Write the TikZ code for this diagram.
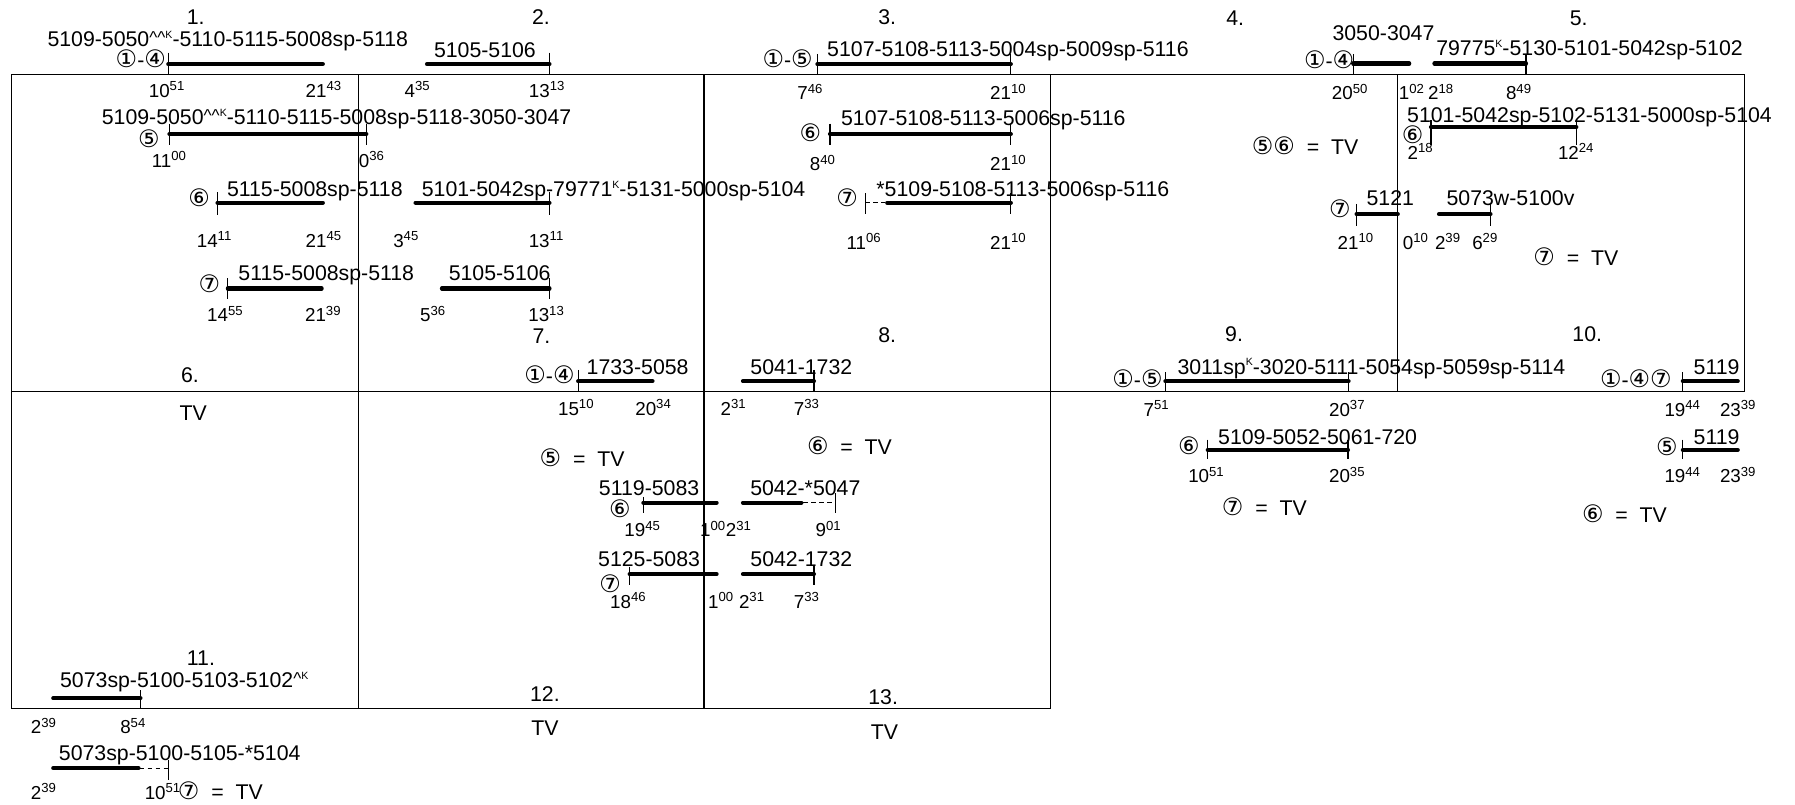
\documentclass[tikz,border=0pt]{standalone}
\usepackage{fontspec}
\setmainfont{Liberation Sans}
\newfontfamily\ringfont{DejaVu Sans}
\usepackage{tikz}
\newcommand{\rg}[1]{{\ringfont\fontsize{10.5}{12}\selectfont #1}}
\newcommand{\crt}{\raisebox{1.2pt}{\fontsize{7.5}{8}\selectfont\textasciicircum}}
\newcommand{\kup}{\raisebox{3.5pt}{\fontsize{4.6}{5}\selectfont K}}

\begin{document}
\begin{tikzpicture}[x=0.5pt, y=-0.5pt,
    box/.style={line width=0.5pt},
    bar/.style={line width=1.8pt, line cap=round},
    tck/.style={line width=0.5pt},
    dsh/.style={line width=0.5pt, dash pattern=on 2pt off 1.5pt},
    lbl/.style={font=\fontsize{9.3}{11}\selectfont, inner sep=0pt, text height=6.7pt, text depth=0pt},
    hrs/.style={font=\fontsize{8.2}{10}\selectfont, inner sep=0pt, text height=5.9pt, text depth=0pt}]
    \useasboundingbox (0,0) rectangle (1568,703);

    % frame of the sections
    \draw[box] (10,65) rectangle (1524,342);
    \draw[box] (10,342) rectangle (918,619);
    \draw[box] (313,65) -- (313,619);
    \draw[box] (615,65) -- (615,619);
    \draw[box] (918,65) -- (918,342);
    \draw[box] (1221,65) -- (1221,342);

    % section numbers
    \node[lbl] (c1) at (171,15) {1.};
    \node[lbl] (c2) at (472.5,15) {2.};
    \node[lbl] (c3) at (775,15) {3.};
    \node[lbl] (c4) at (1079,16) {4.};
    \node[lbl] (c5) at (1379,16) {5.};
    \node[lbl] (c6) at (166,327) {6.};
    \node[lbl] (c7) at (473,293.5) {7.};
    \node[lbl] (c8) at (775,292.6) {8.};
    \node[lbl] (c9) at (1078,292) {9.};
    \node[lbl] (c10) at (1386.5,292) {10.};
    \node[lbl] (c11) at (175.5,575) {11.};
    \node[lbl] (c12) at (476,606) {12.};
    \node[lbl] (c13) at (771.5,608.6) {13.};
    \node[lbl] (tv6) at (168.8,361) {TV};
    \node[lbl] (tv12) at (476,636) {TV};
    \node[lbl] (tv13) at (772.7,639) {TV};

    % sections 1 and 2
    \draw[bar] (147,56) -- (282,56);
    \draw[tck] (147,46) -- (147,65);
    \node[lbl] (r1a) at (123,52.5) {\rg{①}-\rg{④}};
    \node[lbl] (l1a) at (199,33.5) {5109-5050\crt\crt\kup-5110-5115-5008sp-5118};
    \node[hrs] (h1a) at (146,79) {10\textsuperscript{51}};
    \node[hrs] (h1b) at (283,79) {21\textsuperscript{43}};

    \draw[bar] (373,56) -- (480,56);
    \draw[tck] (480,46) -- (480,65);
    \node[lbl] (l2a) at (423.6,43.7) {5105-5106};
    \node[hrs] (h2a) at (365,79) {4\textsuperscript{35}};
    \node[hrs] (h2b) at (478,79) {13\textsuperscript{13}};

    \draw[bar] (148,117) -- (320,117);
    \draw[tck] (148,108) -- (148,127);
    \draw[tck] (320,108) -- (320,127);
    \node[lbl] (r1b) at (130,122) {\rg{⑤}};
    \node[lbl] (l1b) at (294,102) {5109-5050\crt\crt\kup-5110-5115-5008sp-5118-3050-3047};
    \node[hrs] (h1c) at (148,140) {11\textsuperscript{00}};
    \node[hrs] (h1d) at (325,140) {0\textsuperscript{36}};

    \draw[bar] (190,177) -- (282,177);
    \draw[tck] (190,168) -- (190,188);
    \node[lbl] (r1c) at (174,174) {\rg{⑥}};
    \node[lbl] (l1c) at (275,165) {5115-5008sp-5118};
    \node[hrs] (h1e) at (187.5,210) {14\textsuperscript{11}};
    \node[hrs] (h1f) at (283,210) {21\textsuperscript{45}};

    \draw[bar] (363,177) -- (480,177);
    \draw[tck] (480,168) -- (480,188);
    \node[lbl] (l2b) at (536,165) {5101-5042sp-79771\kup-5131-5000sp-5104};
    \node[hrs] (h2c) at (355,210) {3\textsuperscript{45}};
    \node[hrs] (h2d) at (477.5,210) {13\textsuperscript{11}};

    \draw[bar] (199,252) -- (281,252);
    \draw[tck] (199,243) -- (199,261);
    \node[lbl] (r1d) at (183,249) {\rg{⑦}};
    \node[lbl] (l1d) at (285,238) {5115-5008sp-5118};
    \node[hrs] (h1g) at (197,275) {14\textsuperscript{55}};
    \node[hrs] (h1h) at (282.5,275) {21\textsuperscript{39}};

    \draw[bar] (386,252) -- (480,252);
    \draw[tck] (480,243) -- (480,261);
    \node[lbl] (l2c) at (436.5,238) {5105-5106};
    \node[hrs] (h2e) at (378.5,275) {5\textsuperscript{36}};
    \node[hrs] (h2f) at (477.5,275) {13\textsuperscript{13}};

    % section 3
    \draw[bar] (714,56) -- (883,56);
    \draw[tck] (714,47) -- (714,65);
    \draw[tck] (883,47) -- (883,65);
    \node[lbl] (r3a) at (688,52) {\rg{①}-\rg{⑤}};
    \node[lbl] (l3a) at (880.5,43) {5107-5108-5113-5004sp-5009sp-5116};
    \node[hrs] (h3a) at (708,81) {7\textsuperscript{46}};
    \node[hrs] (h3b) at (881,81) {21\textsuperscript{10}};

    \draw[bar] (725,117) -- (883,117);
    \draw[tck] (725,108) -- (725,127);
    \draw[tck] (883,108) -- (883,127);
    \node[lbl] (r3b) at (708,117) {\rg{⑥}};
    \node[lbl] (l3b) at (859,103) {5107-5108-5113-5006sp-5116};
    \node[hrs] (h3c) at (719,143) {8\textsuperscript{40}};
    \node[hrs] (h3d) at (881,143) {21\textsuperscript{10}};

    \draw[dsh] (756,177) -- (773,177);
    \draw[bar] (775,177) -- (883,177);
    \draw[tck] (756,169) -- (756,187);
    \draw[tck] (883,169) -- (883,187);
    \node[lbl] (r3c) at (740,174) {\rg{⑦}};
    \node[lbl] (l3c) at (893.5,165) {*5109-5108-5113-5006sp-5116};
    \node[hrs] (h3e) at (755,212) {11\textsuperscript{06}};
    \node[hrs] (h3f) at (881,212) {21\textsuperscript{10}};

    % sections 4 and 5
    \draw[bar] (1182,55.5) -- (1231,55.5);
    \draw[tck] (1182,47) -- (1182,65);
    \node[lbl] (r4a) at (1161,53) {\rg{①}-\rg{④}};
    \node[lbl] (l4a) at (1208.5,29) {3050-3047};
    \node[hrs] (h4a) at (1179.5,81) {20\textsuperscript{50}};
    \node[hrs] (h4b) at (1233.5,81) {1\textsuperscript{02}};

    \draw[bar] (1253,55.5) -- (1333,55.5);
    \draw[tck] (1333,47) -- (1333,65);
    \node[lbl] (l5a) at (1388.5,42) {79775\kup-5130-5101-5042sp-5102};
    \node[hrs] (h5a) at (1259,81) {2\textsuperscript{18}};
    \node[hrs] (h5b) at (1327,81) {8\textsuperscript{49}};

    \node[lbl] (e4a) at (1140,128) {\rg{⑤⑥}~~=~~TV};

    \draw[bar] (1250,111) -- (1377,111);
    \draw[tck] (1250,105) -- (1250,127);
    \draw[tck] (1377,104) -- (1377,127);
    \node[lbl] (r5a) at (1234,119) {\rg{⑥}};
    \node[lbl] (l5b) at (1388.5,100) {5101-5042sp-5102-5131-5000sp-5104};
    \node[hrs] (h5c) at (1241,133) {2\textsuperscript{18}};
    \node[hrs] (h5d) at (1377,133) {12\textsuperscript{24}};

    \draw[bar] (1185,187) -- (1221,187);
    \draw[tck] (1185,178) -- (1185,197);
    \node[lbl] (r4b) at (1170.5,183) {\rg{⑦}};
    \node[lbl] (l4b) at (1214.5,173) {5121};
    \node[hrs] (h4c) at (1184.5,212) {21\textsuperscript{10}};
    \node[hrs] (h5e) at (1237,212) {0\textsuperscript{10}};

    \draw[bar] (1257,187) -- (1302,187);
    \draw[tck] (1302,178) -- (1302,197);
    \node[lbl] (l5c) at (1319.5,173) {5073w-5100v};
    \node[hrs] (h5f) at (1265,212) {2\textsuperscript{39}};
    \node[hrs] (h5g) at (1297.5,212) {6\textsuperscript{29}};

    \node[lbl] (e5a) at (1376.5,225) {\rg{⑦}~~=~~TV};

    % sections 7 and 8
    \draw[bar] (505,333) -- (570,333);
    \draw[tck] (505,323) -- (505,342);
    \node[lbl] (r7a) at (480,328) {\rg{①}-\rg{④}};
    \node[lbl] (l7a) at (557,320) {1733-5058};
    \node[hrs] (h7a) at (503.5,357) {15\textsuperscript{10}};
    \node[hrs] (h7b) at (571,357) {20\textsuperscript{34}};

    \draw[bar] (649,333) -- (711,333);
    \draw[tck] (711,323) -- (711,342);
    \node[lbl] (l8a) at (700,320) {5041-1732};
    \node[hrs] (h8a) at (641,357) {2\textsuperscript{31}};
    \node[hrs] (h8b) at (705,357) {7\textsuperscript{33}};

    \node[lbl] (e7a) at (508.5,401) {\rg{⑤}~~=~~TV};
    \node[lbl] (e8a) at (742,390.5) {\rg{⑥}~~=~~TV};

    \draw[bar] (562,439) -- (626,439);
    \draw[tck] (562,434) -- (562,448);
    \node[lbl] (r7b) at (541.5,445.5) {\rg{⑥}};
    \node[lbl] (l7b) at (567,426) {5119-5083};
    \node[hrs] (h7c) at (561.5,463) {19\textsuperscript{45}};
    \node[hrs] (h7d) at (623,463) {1\textsuperscript{00}};

    \draw[bar] (649,439) -- (700,439);
    \draw[dsh] (701.5,439) -- (729.5,439);
    \draw[tck] (729.5,431) -- (729.5,448);
    \node[lbl] (l8b) at (703.5,426) {5042-*5047};
    \node[hrs] (h8c) at (645.5,463) {2\textsuperscript{31}};
    \node[hrs] (h8d) at (724,463) {9\textsuperscript{01}};

    \draw[bar] (550,501.5) -- (626,501.5);
    \draw[tck] (550,495) -- (550,511);
    \node[lbl] (r7c) at (533,511) {\rg{⑦}};
    \node[lbl] (l7c) at (567,488) {5125-5083};
    \node[hrs] (h7e) at (549,525.6) {18\textsuperscript{46}};
    \node[hrs] (h7f) at (630,525.6) {1\textsuperscript{00}};

    \draw[bar] (649,501.5) -- (711,501.5);
    \draw[tck] (711,494) -- (711,511);
    \node[lbl] (l8c) at (700,488) {5042-1732};
    \node[hrs] (h8e) at (657,525.6) {2\textsuperscript{31}};
    \node[hrs] (h8f) at (705,525.6) {7\textsuperscript{33}};

    % sections 9 and 10
    \draw[bar] (1018,333) -- (1178,333);
    \draw[tck] (1018,325) -- (1018,342);
    \draw[tck] (1178,325) -- (1178,342);
    \node[lbl] (r9a) at (993.6,332) {\rg{①}-\rg{⑤}};
    \node[lbl] (l9a) at (1198,320) {3011sp\kup-3020-5111-5054sp-5059sp-5114};
    \node[hrs] (h9a) at (1010.5,357.6) {7\textsuperscript{51}};
    \node[hrs] (h9b) at (1177,357.6) {20\textsuperscript{37}};

    \draw[bar] (1470,333) -- (1518,333);
    \draw[tck] (1470,325) -- (1470,342);
    \node[lbl] (r10a) at (1429,332) {\rg{①}-\rg{④⑦}};
    \node[lbl] (l10a) at (1499.5,320) {5119};
    \node[hrs] (h10a) at (1470,357.6) {19\textsuperscript{44}};
    \node[hrs] (h10b) at (1518.5,357.6) {23\textsuperscript{39}};

    \draw[bar] (1055,393) -- (1177.5,393);
    \draw[tck] (1055,384) -- (1055,401);
    \draw[tck] (1177.5,384) -- (1177.5,401);
    \node[lbl] (r9b) at (1038.6,390) {\rg{⑥}};
    \node[lbl] (l9b) at (1151,381.7) {5109-5052-5061-720};
    \node[hrs] (h9c) at (1054,415.8) {10\textsuperscript{51}};
    \node[hrs] (h9d) at (1177,415.8) {20\textsuperscript{35}};

    \draw[bar] (1470,393) -- (1518,393);
    \draw[tck] (1470,384) -- (1470,401);
    \node[lbl] (r10b) at (1456,391) {\rg{⑤}};
    \node[lbl] (l10b) at (1499.5,381.7) {5119};
    \node[hrs] (h10c) at (1470,415.8) {19\textsuperscript{44}};
    \node[hrs] (h10d) at (1518.5,415.8) {23\textsuperscript{39}};

    \node[lbl] (e9a) at (1104.5,443.8) {\rg{⑦}~~=~~TV};
    \node[lbl] (e10a) at (1419,450) {\rg{⑥}~~=~~TV};

    % section 11
    \draw[bar] (46.5,610) -- (122.7,610);
    \draw[tck] (122.7,603) -- (122.7,619);
    \node[lbl] (l11a) at (161,594) {5073sp-5100-5103-5102\crt\kup};
    \node[hrs] (h11a) at (38.4,634.8) {2\textsuperscript{39}};
    \node[hrs] (h11b) at (116.5,634.8) {8\textsuperscript{54}};

    \draw[bar] (46.5,671) -- (121,671);
    \draw[dsh] (122,671) -- (147,671);
    \draw[tck] (147,664) -- (147,681);
    \node[lbl] (l11b) at (157,658) {5073sp-5100-5105-*5104};
    \node[hrs] (h11c) at (38.4,692.4) {2\textsuperscript{39}};
    \node[hrs] (h11d) at (142.5,692.4) {10\textsuperscript{51}};
    \node[lbl] (e11a) at (192.5,692) {\rg{⑦}~~=~~TV};
\end{tikzpicture}
\end{document}
